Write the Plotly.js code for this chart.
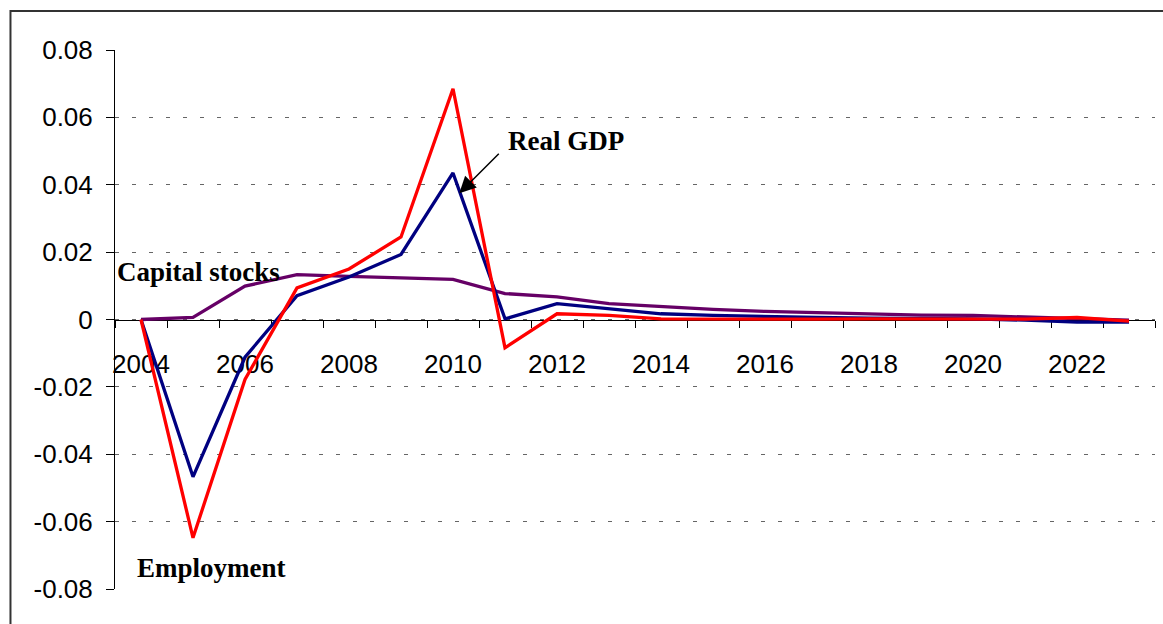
<!DOCTYPE html>
<html>
<head>
<meta charset="utf-8">
<script src="https://cdn.plot.ly/plotly-3.0.1.min.js"></script>
<style>html,body{margin:0;padding:0;background:#fff;}#chart{width:1163px;height:624px;}</style>
</head>
<body>
<div id="chart"></div>
<script>
const years = [2004,2005,2006,2007,2008,2009,2010,2011,2012,2013,2014,2015,2016,2017,2018,2019,2020,2021,2022,2023];
const realGDP = [0,-0.0467,-0.0112,0.0071,0.0126,0.0193,0.0435,0.0002,0.0047,0.0032,0.0017,0.0012,0.0008,0.0006,0.0004,0.0003,0.0002,-0.0002,-0.0008,-0.0008];
const employment = [0,-0.0648,-0.0178,0.0094,0.0150,0.0245,0.0685,-0.0084,0.0017,0.0012,0.0002,0.0001,0.0001,0.0001,0.0002,0.0002,0.0002,0.0001,0.0006,-0.0005];
const capitalStocks = [0,0.0006,0.0099,0.0133,0.0128,0.0123,0.0119,0.0077,0.0067,0.0047,0.0038,0.0030,0.0024,0.0020,0.0016,0.0013,0.0012,0.0008,0.0004,-0.0002];
const xTickVals = [2004,2006,2008,2010,2012,2014,2016,2018,2020,2022];
const xTickText = ['2004','2006','2008','2010','2012','2014','2016','2018','2020','2022'];
const yTickVals = [-0.08,-0.06,-0.04,-0.02,0,0.02,0.04,0.06,0.08];
const yTickText = ['-0.08','-0.06','-0.04','-0.02','0','0.02','0.04','0.06','0.08'];
const boundaries = years.map(y => y - 0.5).concat([years[years.length-1] + 0.5]);

const traces = [
  {x: years, y: capitalStocks, type: 'scatter', mode: 'lines', name: 'Capital stocks', line: {color: '#660066', width: 3.3}},
  {x: years, y: realGDP, type: 'scatter', mode: 'lines', name: 'Real GDP', line: {color: '#000080', width: 3.3}},
  {x: years, y: employment, type: 'scatter', mode: 'lines', name: 'Employment', line: {color: '#FF0000', width: 3.3}}
];

const annFont = {family: '"Liberation Serif", "Times New Roman", serif', size: 27, color: '#000'};
const layout = {
  width: 1163, height: 624,
  margin: {l: 115, r: 8, t: 50, b: 35},
  paper_bgcolor: '#fff', plot_bgcolor: '#fff',
  showlegend: false,
  font: {family: '"Liberation Sans", Arial, sans-serif', size: 26, color: '#000'},
  xaxis: {
    range: [2003.5, 2023.5], anchor: 'free', position: 0.5,
    showgrid: false, zeroline: false, showline: true, linecolor: '#000', linewidth: 1,
    tickmode: 'array', tickvals: xTickVals, ticktext: xTickText,
    ticks: '', ticklabelstandoff: 21,
    minor: {tickmode: 'array', tickvals: boundaries, ticks: 'outside', ticklen: 7, tickcolor: '#000', tickwidth: 1, showgrid: false},
    layer: 'below traces', fixedrange: true
  },
  yaxis: {
    range: [-0.08, 0.08], domain: [0, 1],
    showline: true, linecolor: '#000', linewidth: 1,
    zeroline: false,
    showgrid: true, gridcolor: '#666', gridwidth: 1, griddash: '4px,13px',
    tickmode: 'array', tickvals: yTickVals, ticktext: yTickText,
    ticks: 'outside', ticklen: 8, tickcolor: '#000', ticklabelstandoff: 8,
    layer: 'below traces', fixedrange: true
  },
  shapes: [
    {type: 'rect', xref: 'paper', yref: 'paper', x0: -0.1005, x1: 1.05, y0: -0.2, y1: 1.0725,
     line: {color: '#333', width: 2}, fillcolor: 'rgba(0,0,0,0)', layer: 'below'}
  ],
  annotations: [
    {x: 2012.18, y: 0.0530, xref: 'x', yref: 'y', text: '<b>Real GDP</b>', showarrow: false, font: annFont},
    {x: 2005.106, y: 0.0141, xref: 'x', yref: 'y', text: '<b>Capital stocks</b>', showarrow: false, font: annFont},
    {x: 2005.365, y: -0.0738, xref: 'x', yref: 'y', text: '<b>Employment</b>', showarrow: false, font: annFont},
    {x: 2010.121, y: 0.03746, xref: 'x', yref: 'y', text: ' ', showarrow: true, ax: 41, ay: -41,
     arrowhead: 2, arrowsize: 2.2, arrowwidth: 1.5, arrowcolor: '#000', font: {size: 1}}
  ]
};

Plotly.newPlot('chart', traces, layout, {staticPlot: true, displayModeBar: false});
</script>
</body>
</html>
